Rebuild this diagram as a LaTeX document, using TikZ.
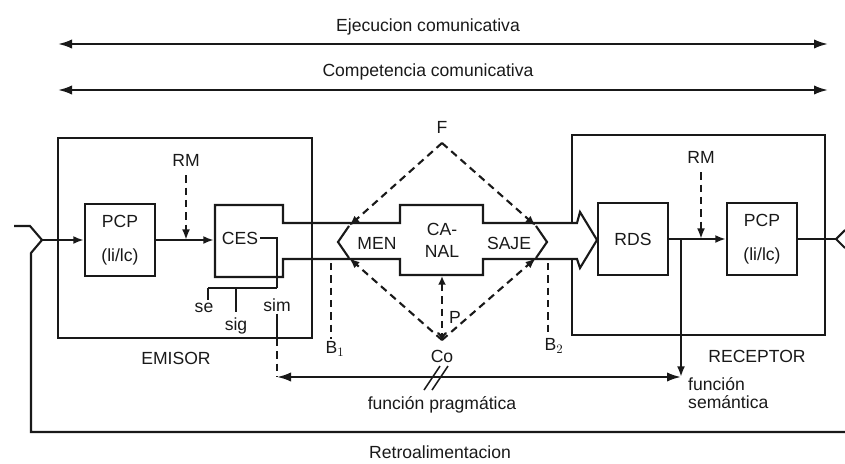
\documentclass[tikz,border=0pt]{standalone}
\usepackage{fontspec}
\setmainfont{Liberation Sans}
\usetikzlibrary{arrows.meta,positioning,calc}
\definecolor{ink}{RGB}{25,25,25}

\begin{document}
\begin{tikzpicture}[
    x=0.3mm, y=-0.3mm, line width=1.8pt, draw=ink, text=ink,
    font=\fontsize{15}{19}\selectfont,
    box/.style={rectangle, draw, line width=1.8pt, minimum width=21mm, minimum height=21.6mm, align=center, inner sep=1pt},
    frame/.style={rectangle, draw, line width=1.8pt},
    lbl/.style={inner sep=1pt},
    arrow/.style={-{Latex[length=3.2mm,width=2.4mm]}},
    twoway/.style={{Latex[length=4.2mm,width=2.8mm]}-{Latex[length=4.2mm,width=2.8mm]}},
    dashline/.style={dash pattern=on 2.2mm off 1.5mm}
  ]
  \useasboundingbox (0,0) rectangle (845,464);

  % Top bands
  \node[lbl] (ejec) at (428,27) {Ejecucion comunicativa};
  \coordinate (ejL) at (58,44);
  \coordinate (ejR) at (828,44);
  \draw[twoway] (ejL) -- (ejR);
  \node[lbl] (comp) at (428,72) {Competencia comunicativa};
  \coordinate (coL) at (58,90);
  \coordinate (coR) at (828,90);
  \draw[twoway] (coL) -- (coR);

  % Receptor frame (left side hidden by the message arrow)
  \node[frame, minimum width=75.9mm, minimum height=60mm] (receptor) at (698.5,235) {};

  % Emitter box, message arrow and channel
  \draw[fill=white]
    (283,223) -- (283,205) -- (215,205) -- (215,277) -- (283,277) -- (283,259)
    -- (400,259) -- (400,275) -- (483,275) -- (483,259) -- (577,259)
    -- (580,268) -- (597,240) -- (580,212) -- (577,223)
    -- (483,223) -- (483,205) -- (400,205) -- (400,223) -- cycle;
  \node[minimum width=20.4mm, minimum height=21.6mm] (ces) at (249,240) {};
  \node[lbl] (cestext) at (240,238) {CES};
  \node[minimum width=24.9mm, minimum height=21mm, align=center, inner sep=0pt] (canal) at (442,240) {CA-\\NAL};
  \node[lbl] (men) at (377,243) {MEN};
  \node[lbl] (saje) at (509,243) {SAJE};

  % Emisor frame
  \node[frame, minimum width=76.2mm, minimum height=60mm] (emisor) at (185,238) {};

  % Emisor
  \node[box] (pcpE) at (120,240) {PCP\\[10pt](li/lc)};
  \node[lbl] (rmE) at (186,160) {RM};
  \draw[arrow] (pcpE) -- (ces);
  \draw[dashline, arrow, shorten <=6pt] (rmE.south) -- (rmE |- pcpE.east);
  \node[lbl] (emlbl) at (176,358) {EMISOR};

  % Receptor
  \node[box] (rds) at (633,239) {RDS};
  \node[box] (pcpR) at (762,239) {PCP\\[10pt](li/lc)};
  \node[lbl] (rmR) at (701,157) {RM};
  \draw[arrow] (rds) -- (pcpR);
  \draw[dashline, arrow, shorten <=6pt] (rmR.south) -- (rmR |- pcpR.west);
  \node[lbl] (relbl) at (757,356) {RECEPTOR};

  % Input, output and feedback
  \coordinate (inp) at (14,226);
  \coordinate (join) at (42,240);
  \coordinate (fbL) at (31,432);
  \coordinate (fbR) at (845,432);
  \coordinate (outp) at (836,239);
  \draw (inp) -- ++(16,0) -- (join);
  \draw[arrow] (join) -- (pcpE);
  \draw (join) -- (31,253) -- (fbL) -- (fbR);
  \draw (pcpR) -- (outp);
  \draw (outp) -- ++(9,-9);
  \draw (outp) -- ++(9,9);
  \node[lbl] (retro) at (440,452) {Retroalimentacion};

  % CES signs
  \coordinate (cesout) at (277,238);
  \coordinate (tee) at (277,288);
  \draw (cestext.east) -- (cesout) -- (tee);
  \draw (208,288) -- (tee);
  \draw (208,288) -- (208,300);
  \draw (236,288) -- (236,312);
  \node[lbl] (se) at (204,308) {se};
  \node[lbl] (sig) at (236,326) {sig};
  \node[lbl] (sim) at (277,305) {sim};
  \draw (sim.south) -- (sim.south |- emisor.south);

  % Pragmatic and semantic functions
  \coordinate (pragL) at (277,377);
  \coordinate (semC) at (681,377);
  \draw[dashline] (sim.south |- emisor.south) -- (pragL);
  \draw[twoway] (pragL) -- (semC);
  \draw[arrow] (rds.east -| semC) -- (semC);
  \draw[line width=1.3pt] (424,390) -- (440,366);
  \draw[line width=1.3pt] (432,390) -- (448,366);
  \node[lbl] (fprag) at (442,405) {función pragmática};
  \node[lbl, anchor=west, align=left, font=\fontsize{15}{16}\selectfont] (fsem) at (686,393) {función\\semántica};

  % Diamond F - Co
  \node[lbl] (F) at (442,127) {F};
  \coordinate (fV) at (442,143);
  \node[lbl] (Co) at (442,356) {Co};
  \coordinate (coV) at (442,340);
  \coordinate (menT) at (349,226);
  \coordinate (menB) at (349,258);
  \coordinate (sajT) at (536,226);
  \coordinate (sajB) at (536,258);
  \draw[dashline, arrow] (fV) -- (menT);
  \draw[dashline, arrow] (fV) -- (sajT);
  \draw[dashline, arrow] (coV) -- (menB);
  \draw[dashline, arrow] (coV) -- (sajB);
  \draw (menT) -- (338,242) -- (menB);
  \draw (sajT) -- (547,242) -- (sajB);
  \draw[dashline, {Latex[length=2.6mm,width=2.4mm]}-{To[length=2.4mm,width=3mm]}] (canal.south) -- (coV);
  \node[lbl] (P) at (455,317) {P};

  % Boundaries B1 and B2
  \node[lbl] (b1) at (335,349) {B$_1$};
  \node[lbl] (b2) at (554,346) {B$_2$};
  \draw[dashline] (331,263) -- (b1.north -| 331,0);
  \draw[dashline] (548,263) -- (b2.north -| 548,0);
\end{tikzpicture}
\end{document}
